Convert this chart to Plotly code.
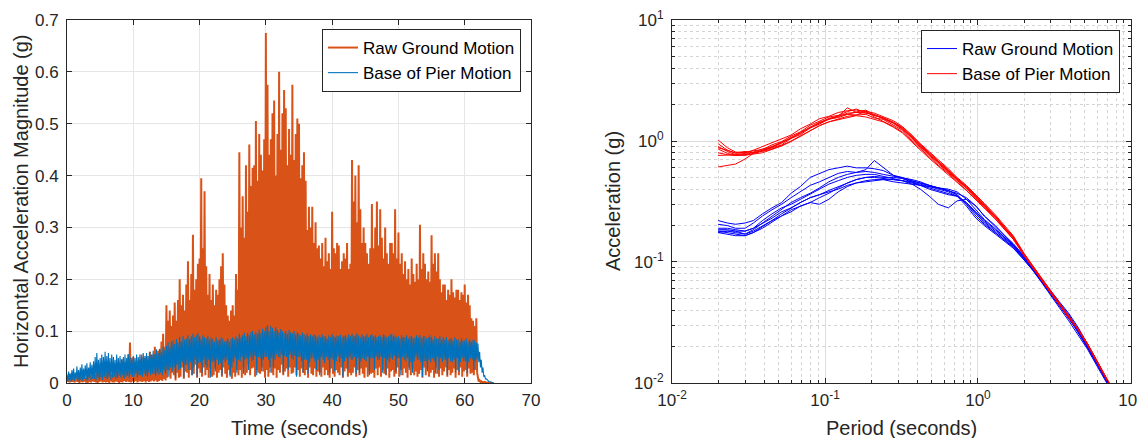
import numpy as np
import plotly.graph_objects as go

# ---------------- DATA ----------------
# Time histories: sample spacing (s) and values in milli-g (alternating local maxima / minima)
time_step = 0.125

raw_ground_mg = [
    12,2,18,1,10,3,20,2, 15,1,8,3,14,2,11,0, 18,2,12,1,20,3,9,1, 14,0,20,2,16,1,12,3,
    22,2,15,1,25,0,18,2, 28,3,19,1,24,2,30,1, 20,2,30,0,26,3,17,1, 32,1,22,3,35,2,25,0,
    30,2,45,1,28,4,38,2, 40,3,55,2,78,1,48,3, 50,2,35,4,42,1,30,3, 45,3,55,2,38,4,48,1,
    52,4,40,2,60,3,44,5, 55,3,70,5,48,2,62,4, 65,6,80,4,95,8,70,5,
    150,10,120,25,140,8,110,20, 130,15,155,5,120,20,160,10, 200,12,150,30,170,8,140,22,
    190,20,235,10,160,25,210,15, 286,18,180,35,200,10,230,28, 240,20,395,12,260,30,370,15,
    225,25,170,10,210,30,160,12, 190,15,150,28,180,10,170,20, 200,25,225,12,250,30,190,18,
    150,10,130,25,120,15,140,8, 150,20,130,12,210,25,180,15, 445,25,300,10,360,30,280,15,
    420,20,330,35,460,15,380,28, 415,30,420,12,505,25,390,20, 480,18,440,30,410,22,470,10,
    675,25,575,12,440,30,470,20, 520,15,545,28,400,10,480,25, 600,20,450,35,520,15,565,22,
    530,28,420,12,490,30,440,18, 575,20,430,30,480,15,510,25, 500,12,395,28,420,20,445,15,
    390,25,295,10,340,30,300,18, 340,15,270,28,310,12,260,22, 265,20,240,12,270,30,225,15,
    280,25,235,15,250,10,220,28, 330,18,260,12,250,25,270,20, 265,15,220,30,235,10,250,22,
    240,28,270,12,220,20,230,15, 430,20,350,30,400,12,310,25, 420,15,335,28,270,18,300,10,
    270,30,250,12,230,22,260,18, 345,20,260,10,300,28,350,15, 265,30,335,12,280,25,240,18,
    300,15,250,28,230,10,270,22, 270,25,250,12,335,18,240,30, 290,12,230,25,250,15,210,28,
    235,20,200,10,220,30,190,15, 240,28,210,15,195,22,230,12, 200,18,305,25,220,10,250,30,
    230,15,200,28,215,12,195,20, 285,25,230,10,250,30,215,18, 250,12,200,28,175,15,190,22,
    190,30,160,12,180,25,170,15, 200,20,175,28,165,10,180,25, 180,15,160,30,175,12,170,22,
    190,25,155,12,170,28,150,18, 125,20,120,15,110,25,125,20,
    10,3,5,2,3,1,2,1, 2,1,1,0,1,0,0,0, 0,0,0,0,
]

pier_base_mg = [
    15,3,22,5,18,2,25,6, 28,4,20,8,32,5,25,3, 30,6,36,4,28,8,34,5, 38,5,30,10,40,6,35,8,
    42,8,50,5,58,10,45,6, 48,10,55,6,50,12,60,8, 52,8,58,12,48,6,55,10, 50,12,45,8,55,10,48,14,
    52,10,46,15,50,8,55,12, 48,14,56,10,50,16,45,12, 52,12,48,18,55,10,50,15, 55,15,50,12,58,18,52,14,
    58,12,52,20,60,15,55,18, 62,18,56,14,65,20,58,16, 66,20,60,15,70,22,64,18,
    72,25,78,12,70,30,80,22, 82,30,75,8,85,35,78,25, 88,28,80,40,90,10,84,35,
    86,35,92,25,85,40,90,15, 95,30,88,45,92,12,96,38, 90,40,85,20,92,45,88,35,
    86,30,90,45,84,10,88,40, 85,42,80,22,88,45,82,35, 84,38,88,15,86,45,80,40,
    82,45,86,35,80,12,85,30, 88,40,84,48,90,20,86,45, 95,42,88,50,92,18,97,45,
    90,48,96,25,92,50,98,42, 100,45,94,52,98,15,95,50, 102,48,96,22,105,45,100,50,
    108,50,112,45,100,20,110,48, 106,30,100,45,108,55,102,50, 98,48,104,55,100,18,96,52,
    100,50,95,25,102,55,98,48, 96,45,100,52,94,12,98,50, 95,50,92,42,98,20,94,45,
    92,45,96,18,90,40,94,48, 90,48,94,42,92,25,88,45, 92,15,88,50,94,45,90,38,
    90,50,86,45,92,20,88,48, 94,45,90,22,88,42,92,50, 90,40,93,48,88,12,91,42,
    92,48,88,25,94,50,90,45, 95,45,90,50,92,18,96,48, 92,20,88,42,94,48,90,45,
    90,42,94,50,88,15,92,48, 94,48,90,25,92,50,88,45, 90,45,92,50,88,20,94,48,
    92,18,88,45,90,40,94,48, 95,45,90,52,92,22,88,48, 90,48,86,15,92,50,88,45,
    88,42,92,48,86,25,90,40, 90,20,86,42,88,50,92,45, 88,45,92,40,86,12,90,42,
    90,42,86,22,88,45,92,40, 88,48,84,42,90,18,86,50, 86,25,90,48,84,40,88,45,
    84,45,88,15,82,48,86,42, 86,40,82,45,88,20,84,48, 84,22,80,40,86,48,82,42,
    82,42,86,18,80,40,84,48, 80,45,84,25,82,42,78,45,
    76,40,60,30,45,20,30,12, 15,8,8,5,5,3,3,2, 2,1,1,0,
]

# Response spectra
periods = [0.02, 0.023, 0.026, 0.03, 0.034, 0.039, 0.045, 0.052, 0.06, 0.069, 0.08, 0.092,
           0.106, 0.122, 0.14, 0.16, 0.185, 0.21, 0.24, 0.28, 0.32, 0.37, 0.42, 0.48, 0.55,
           0.64, 0.73, 0.84, 0.97, 1.1, 1.3, 1.5, 1.7, 2.0, 2.3, 2.6, 3.0, 3.4, 3.9, 4.5,
           5.2, 6.0, 6.9, 8.0]

raw_ground_sa = [
    [0.22,0.21,0.205,0.21,0.22,0.25,0.28,0.31,0.37,0.42,0.50,0.54,0.58,0.60,0.62,0.60,0.60,0.59,0.57,0.52,0.50,0.47,0.45,0.43,0.41,0.39,0.37,0.34,0.29,0.24,0.20,0.165,0.142,0.112,0.09,0.072,0.056,0.046,0.037,0.028,0.0205,0.0148,0.011,0.0077],
    [0.18,0.18,0.175,0.17,0.185,0.21,0.24,0.27,0.31,0.34,0.37,0.41,0.46,0.50,0.53,0.55,0.58,0.69,0.60,0.52,0.49,0.46,0.43,0.40,0.38,0.36,0.35,0.31,0.26,0.22,0.185,0.158,0.138,0.108,0.087,0.07,0.054,0.044,0.035,0.0265,0.0195,0.0143,0.0106,0.0075],
    [0.175,0.17,0.165,0.165,0.175,0.19,0.215,0.24,0.27,0.29,0.31,0.30,0.33,0.38,0.42,0.45,0.47,0.48,0.48,0.46,0.45,0.44,0.43,0.41,0.39,0.37,0.35,0.31,0.25,0.21,0.175,0.15,0.132,0.104,0.084,0.068,0.052,0.042,0.033,0.025,0.019,0.0138,0.0103,0.0073],
    [0.19,0.19,0.185,0.18,0.19,0.22,0.25,0.28,0.30,0.33,0.36,0.40,0.44,0.47,0.50,0.52,0.53,0.53,0.51,0.49,0.47,0.44,0.40,0.35,0.30,0.28,0.32,0.33,0.29,0.24,0.195,0.162,0.14,0.111,0.09,0.073,0.057,0.047,0.038,0.029,0.021,0.015,0.011,0.0077],
    [0.175,0.18,0.18,0.17,0.18,0.20,0.22,0.25,0.28,0.31,0.34,0.36,0.39,0.42,0.45,0.48,0.50,0.51,0.50,0.50,0.49,0.47,0.45,0.43,0.41,0.40,0.38,0.33,0.27,0.225,0.188,0.158,0.138,0.109,0.087,0.07,0.055,0.045,0.036,0.027,0.020,0.0145,0.0107,0.0076],
    [0.18,0.175,0.17,0.165,0.175,0.195,0.22,0.24,0.26,0.29,0.31,0.34,0.37,0.41,0.45,0.48,0.50,0.50,0.49,0.48,0.47,0.45,0.43,0.42,0.41,0.39,0.36,0.30,0.24,0.205,0.175,0.152,0.134,0.106,0.086,0.069,0.054,0.044,0.035,0.027,0.0198,0.0144,0.0106,0.0075],
    [0.205,0.2,0.19,0.19,0.21,0.24,0.27,0.30,0.34,0.38,0.43,0.46,0.50,0.54,0.56,0.55,0.56,0.55,0.53,0.51,0.50,0.48,0.46,0.43,0.41,0.39,0.36,0.30,0.25,0.215,0.18,0.155,0.136,0.108,0.088,0.071,0.055,0.044,0.036,0.027,0.0202,0.0146,0.0107,0.0076],
    [0.185,0.185,0.18,0.18,0.19,0.21,0.23,0.26,0.28,0.31,0.34,0.36,0.38,0.40,0.43,0.45,0.46,0.47,0.48,0.48,0.47,0.46,0.44,0.42,0.40,0.38,0.35,0.29,0.23,0.20,0.17,0.148,0.13,0.104,0.085,0.069,0.054,0.044,0.035,0.0268,0.0198,0.0144,0.0106,0.0075],
]

pier_base_sa = [
    [1.02,0.88,0.81,0.80,0.84,0.90,0.97,1.05,1.12,1.26,1.38,1.53,1.60,1.72,1.78,1.80,1.76,1.70,1.60,1.47,1.32,1.12,0.95,0.81,0.70,0.59,0.50,0.43,0.36,0.305,0.245,0.197,0.165,0.118,0.092,0.074,0.057,0.046,0.036,0.028,0.021,0.0152,0.0112,0.0079],
    [0.95,0.84,0.79,0.80,0.83,0.85,0.93,0.99,1.10,1.19,1.35,1.45,1.58,1.63,1.75,1.84,1.70,1.66,1.55,1.43,1.28,1.08,0.93,0.79,0.68,0.575,0.49,0.42,0.35,0.30,0.24,0.193,0.162,0.113,0.089,0.071,0.055,0.044,0.035,0.0275,0.0205,0.0148,0.0108,0.0077],
    [0.90,0.82,0.77,0.76,0.79,0.83,0.89,0.96,1.07,1.16,1.30,1.42,1.54,1.60,1.88,1.72,1.74,1.62,1.56,1.42,1.30,1.10,0.93,0.80,0.68,0.58,0.49,0.42,0.35,0.30,0.238,0.192,0.16,0.117,0.091,0.073,0.056,0.045,0.0355,0.028,0.0212,0.0153,0.011,0.0078],
    [0.86,0.79,0.76,0.77,0.78,0.80,0.85,0.91,0.99,1.09,1.21,1.34,1.44,1.52,1.60,1.64,1.76,1.58,1.46,1.32,1.19,1.00,0.86,0.74,0.63,0.54,0.46,0.395,0.33,0.285,0.228,0.186,0.155,0.114,0.09,0.072,0.056,0.045,0.035,0.028,0.021,0.015,0.011,0.0078],
    [0.80,0.77,0.76,0.77,0.81,0.86,0.89,0.98,1.05,1.18,1.29,1.43,1.51,1.62,1.66,1.74,1.80,1.64,1.53,1.40,1.25,1.06,0.90,0.77,0.66,0.56,0.48,0.41,0.34,0.295,0.237,0.19,0.161,0.116,0.09,0.072,0.0565,0.0452,0.035,0.0282,0.021,0.0151,0.0111,0.0079],
    [0.76,0.76,0.77,0.79,0.80,0.82,0.86,0.92,1.00,1.10,1.22,1.34,1.44,1.50,1.58,1.62,1.58,1.52,1.44,1.30,1.17,0.98,0.84,0.72,0.62,0.53,0.455,0.39,0.325,0.28,0.226,0.184,0.154,0.113,0.089,0.071,0.055,0.045,0.0348,0.0278,0.0208,0.0149,0.0109,0.0077],
    [0.88,0.83,0.80,0.82,0.80,0.83,0.88,0.93,1.05,1.13,1.28,1.38,1.52,1.56,1.66,1.64,1.66,1.55,1.51,1.35,1.23,1.03,0.88,0.76,0.65,0.55,0.47,0.405,0.335,0.29,0.232,0.188,0.158,0.115,0.09,0.072,0.056,0.045,0.035,0.028,0.021,0.015,0.011,0.0078],
    [0.61,0.625,0.645,0.71,0.79,0.84,0.90,0.97,1.06,1.16,1.30,1.40,1.52,1.59,1.70,1.72,1.70,1.64,1.54,1.41,1.27,1.07,0.91,0.78,0.67,0.565,0.485,0.415,0.345,0.296,0.236,0.191,0.16,0.116,0.091,0.073,0.056,0.045,0.035,0.028,0.021,0.015,0.011,0.0078],
]

time_ticks = [0, 10, 20, 30, 40, 50, 60, 70]
accel_ticks = [0, 0.1, 0.2, 0.3, 0.4, 0.5, 0.6, 0.7]
accel_tick_text = ["0", "0.1", "0.2", "0.3", "0.4", "0.5", "0.6", "0.7"]
log_ticks = [0.01, 0.1, 1, 10]
log_tick_text = ["10<sup>-2</sup>", "10<sup>-1</sup>", "10<sup>0</sup>", "10<sup>1</sup>"]

# ---------------- FIGURE ----------------
# The page body adds an 8 px margin, so the figure is drawn 8 px smaller and all
# window positions are shifted by that offset.
PAGE_OFF = 8
WIN_W, WIN_H = 1145, 438
W, H = WIN_W - PAGE_OFF, WIN_H - PAGE_OFF


def px(x):
    return (x - PAGE_OFF) / W


def py(y):
    return 1 - (y - PAGE_OFF) / H


FONT = "Liberation Sans, Arial, Helvetica, sans-serif"
AX_COLOR = "#262626"

fig = go.Figure()

t_raw = np.arange(len(raw_ground_mg)) * time_step
t_pier = np.arange(len(pier_base_mg)) * time_step

fig.add_trace(go.Scatter(x=t_raw, y=np.array(raw_ground_mg) / 1000.0, mode="lines",
                         line=dict(color="#D95319", width=2), name="Raw Ground Motion",
                         xaxis="x", yaxis="y", legend="legend", hoverinfo="skip"))
fig.add_trace(go.Scatter(x=t_pier, y=np.array(pier_base_mg) / 1000.0, mode="lines",
                         line=dict(color="#0072BD", width=1.1), name="Base of Pier Motion",
                         xaxis="x", yaxis="y", legend="legend", hoverinfo="skip"))

for i, curve in enumerate(raw_ground_sa):
    fig.add_trace(go.Scatter(x=periods, y=curve, mode="lines",
                             line=dict(color="#0000FF", width=1), name="Raw Ground Motion",
                             showlegend=(i == 0), legendgroup="raw",
                             xaxis="x2", yaxis="y2", legend="legend2", hoverinfo="skip"))
for i, curve in enumerate(pier_base_sa):
    fig.add_trace(go.Scatter(x=periods, y=curve, mode="lines",
                             line=dict(color="#FF0000", width=1), name="Base of Pier Motion",
                             showlegend=(i == 0), legendgroup="pier",
                             xaxis="x2", yaxis="y2", legend="legend2", hoverinfo="skip"))

y_dom = [py(383), py(20)]
common = dict(showline=True, linecolor=AX_COLOR, linewidth=1, mirror="ticks",
              ticks="inside", ticklen=5, tickcolor=AX_COLOR, zeroline=False,
              ticklabeloverflow="allow",
              tickfont=dict(family=FONT, size=17, color=AX_COLOR), automargin=False)

minor_vals = [m * 10.0 ** e for e in (-2, -1, 0) for m in range(2, 10)]
minor_style = dict(tickvals=minor_vals, ticks="inside", ticklen=3, tickcolor=AX_COLOR,
                   showgrid=True, gridcolor="#d4d4d4", griddash="dot", gridwidth=1)

LOG_RANGE = [-2.0004, 1.0004]

fig.update_layout(
    width=W, height=H,
    margin=dict(l=0, r=0, t=0, b=0),
    paper_bgcolor="white", plot_bgcolor="white",
    font=dict(family=FONT, color=AX_COLOR),
    showlegend=True,
    xaxis=dict(domain=[px(67), px(531)], range=[0, 70], tickvals=time_ticks,
               showgrid=True, gridcolor="#e6e6e6", gridwidth=1, anchor="y",
               ticklabelstandoff=2, **common),
    yaxis=dict(domain=y_dom, range=[0, 0.7], tickvals=accel_ticks, ticktext=accel_tick_text,
               showgrid=True, gridcolor="#e6e6e6", gridwidth=1, anchor="x",
               ticklabelstandoff=4, **common),
    xaxis2=dict(domain=[px(672), px(1131)], type="log", range=LOG_RANGE,
                tickvals=log_ticks, ticktext=log_tick_text, anchor="y2",
                showgrid=True, gridcolor="#dcdcdc", gridwidth=1, minor=minor_style,
                ticklabelstandoff=2, **common),
    yaxis2=dict(domain=y_dom, type="log", range=LOG_RANGE,
                tickvals=log_ticks, ticktext=log_tick_text, anchor="x2",
                showgrid=True, gridcolor="#dcdcdc", gridwidth=1, minor=minor_style,
                ticklabelstandoff=4, **common),
    legend=dict(x=px(521), y=py(29), xanchor="right", yanchor="top",
                bgcolor="white", bordercolor=AX_COLOR, borderwidth=1,
                font=dict(family=FONT, size=17, color="#000000"), tracegroupgap=0),
    legend2=dict(x=px(1120), y=py(30), xanchor="right", yanchor="top",
                 bgcolor="white", bordercolor=AX_COLOR, borderwidth=1,
                 font=dict(family=FONT, size=17, color="#000000"), tracegroupgap=0),
    annotations=[
        dict(text="Time (seconds)", x=px(299), y=py(428), xref="paper", yref="paper",
             showarrow=False, xanchor="center", yanchor="middle",
             font=dict(family=FONT, size=20, color=AX_COLOR)),
        dict(text="Horizontal Acceleration Magnitude (g)", x=px(21), y=py(201),
             xref="paper", yref="paper", showarrow=False, textangle=-90,
             xanchor="center", yanchor="middle",
             font=dict(family=FONT, size=20, color=AX_COLOR)),
        dict(text="Period (seconds)", x=px(901), y=py(428), xref="paper", yref="paper",
             showarrow=False, xanchor="center", yanchor="middle",
             font=dict(family=FONT, size=20, color=AX_COLOR)),
        dict(text="Acceleration (g)", x=px(613), y=py(201), xref="paper", yref="paper",
             showarrow=False, textangle=-90, xanchor="center", yanchor="middle",
             font=dict(family=FONT, size=20, color=AX_COLOR)),
    ],
)

fig.write_html("out.html")
